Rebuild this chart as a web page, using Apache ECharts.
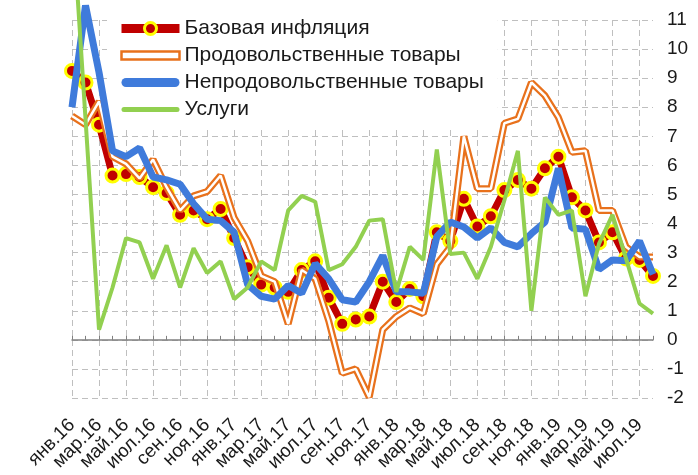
<!DOCTYPE html>
<html>
<head>
<meta charset="utf-8">
<script src="https://cdn.jsdelivr.net/npm/echarts@6/dist/echarts.min.js"></script>
<style>
  html, body { margin: 0; padding: 0; background: #fff; }
  #chart { width: 698px; height: 475px; }
</style>
</head>
<body>
<div id="chart"></div>
<script>
// подписи месяцев янв.16 ... авг.19
const monthNames = ['янв', 'фев', 'мар', 'апр', 'май', 'июн', 'июл', 'авг', 'сен', 'окт', 'ноя', 'дек'];
const years = ['16', '17', '18', '19'];
const months = [];
years.forEach(y => monthNames.forEach(m => months.push(m + '.' + y)));
months.length = 44;

const baseInfl = [9.25, 8.85, 7.4, 5.65, 5.7, 5.6, 5.25, 5.05, 4.3, 4.45,
  4.15, 4.5, 3.5, 2.5, 1.9, 1.8, 1.65, 2.4, 2.7, 1.45,
  0.55, 0.7, 0.8, 2.0, 1.3, 1.75, 1.5, 3.7, 3.4, 4.85,
  3.9, 4.25, 5.15, 5.5, 5.2, 5.9, 6.3, 4.9, 4.45, 3.35,
  3.7, 2.8, 2.75, 2.2];
const foodVals = [7.7, 7.4, 8.2, 6.3, 6.05, 5.55, 6.2, 5.25, 4.45, 4.95,
  5.1, 5.65, 4.2, 3.4, 2.2, 2.0, 0.55, 2.4, 2.1, 0.65,
  -1.15, -1.0, -1.97, 0.35, 0.8, 1.1, 0.9, 2.6, 3.2, 7.0,
  5.2, 5.2, 7.45, 7.6, 8.85, 8.4, 7.65, 6.45, 6.5, 4.45,
  4.45, 3.2, 2.85, 2.85];
const nonFoodVals = [8.0, 11.5, 9.2, 6.5, 6.3, 6.6, 5.6, 5.5, 5.35, 4.68,
  4.15, 4.1, 3.7, 1.9, 1.5, 1.4, 1.87, 1.6, 2.62, 2.1,
  1.38, 1.3, 2.0, 2.9, 1.65, 1.65, 1.6, 3.55, 4.05, 3.88,
  3.5, 3.85, 3.35, 3.2, 3.65, 4.05, 5.9, 3.85, 3.8, 2.42,
  2.75, 2.72, 3.4, 2.25];
const servicesVals = [14.8, 7.6, 0.35, 1.8, 3.5, 3.35, 2.1, 3.25, 1.8, 3.15,
  2.3, 2.7, 1.4, 1.8, 2.7, 2.4, 4.45, 4.95, 4.75, 2.4,
  2.6, 3.2, 4.1, 4.15, 1.65, 3.2, 2.75, 6.55, 2.95, 3.0,
  2.1, 3.2, 4.8, 6.5, 1.0, 4.9, 4.3, 4.45, 1.5, 3.3,
  4.3, 2.8, 1.25, 0.9];

const yMin = -2, yMax = 11, yStep = 1;

const RED = '#C00000', YELLOW = '#FFFF00', ORANGE = '#E8711C', BLUE = '#3F7BDB', GREEN = '#92D050';
const FONT = '"Liberation Sans", Arial, sans-serif';
const gridDash = { color: '#BFBFBF', type: [6, 4], width: 1 };

const chart = echarts.init(document.getElementById('chart'), null, { renderer: 'canvas' });

chart.setOption({
  animation: false,
  textStyle: { fontFamily: FONT },
  grid: { left: 72, right: 45, top: 20, bottom: 77 },
  legend: {
    orient: 'vertical',
    left: 107,
    top: 12,
    padding: [6, 14, 8, 10],
    backgroundColor: '#fff',
    itemWidth: 58,
    itemHeight: 15,
    itemGap: 6,
    textStyle: { fontSize: 21, color: '#1a1a1a', fontFamily: FONT, lineHeight: 20 },
    data: [
      { name: 'Базовая инфляция', lineStyle: { width: 9 }, itemStyle: { borderWidth: 3 } },
      { name: 'Продовольственные товары', icon: 'path://M0,0H58V8H0Z',
        itemStyle: { color: '#fff', borderColor: ORANGE, borderWidth: 2.5 } },
      { name: 'Непродовольственные товары', icon: 'path://M4.5,0H53.5A4.5,4.5,0,0,1,53.5,9H4.5A4.5,4.5,0,0,1,4.5,0Z',
        itemStyle: { color: BLUE } },
      { name: 'Услуги', icon: 'path://M2.5,0H55.5A2.5,2.5,0,0,1,55.5,5H2.5A2.5,2.5,0,0,1,2.5,0Z',
        itemStyle: { color: GREEN } }
    ]
  },
  xAxis: [{
    type: 'category',
    data: months,
    boundaryGap: false,
    axisLine: { show: false, onZero: false },
    axisTick: { show: false },
    axisLabel: {
      interval: 1, rotate: 45, margin: 24, fontSize: 19, color: '#1a1a1a', fontFamily: FONT
    },
    splitLine: { show: true, interval: 1, lineStyle: gridDash }
  }, {
    type: 'category',
    data: months,
    boundaryGap: false,
    position: 'bottom',
    axisLine: { show: true, onZero: true, lineStyle: { color: '#808080', width: 1.5 } },
    axisTick: { show: true, interval: 0, inside: true, length: 4, lineStyle: { color: '#808080' } },
    axisLabel: { show: false },
    splitLine: { show: false }
  }],
  yAxis: {
    type: 'value',
    position: 'right',
    min: yMin, max: yMax, interval: yStep,
    axisLine: { show: false },
    axisTick: { show: false },
    axisLabel: { margin: 14, fontSize: 19, color: '#1a1a1a', fontFamily: FONT },
    splitLine: { show: true, lineStyle: gridDash }
  },
  series: [
    {
      name: 'Базовая инфляция', type: 'line', data: baseInfl, z: 2,
      symbol: 'circle', symbolSize: 13, showAllSymbol: true,
      lineStyle: { color: RED, width: 7 },
      itemStyle: { color: RED, borderColor: YELLOW, borderWidth: 3 }
    },
    {
      name: 'Продовольственные товары', type: 'line', data: foodVals, z: 3,
      symbol: 'none', clip: false,
      lineStyle: { color: ORANGE, width: 7 },
      itemStyle: { color: ORANGE }
    },
    {
      name: 'food-inner', type: 'line', data: foodVals, z: 3,
      symbol: 'none', clip: false, silent: true,
      lineStyle: { color: '#fff', width: 2.5 },
      itemStyle: { color: '#fff' }
    },
    {
      name: 'Непродовольственные товары', type: 'line', data: nonFoodVals, z: 4,
      symbol: 'none', clip: false,
      lineStyle: { color: BLUE, width: 7 },
      itemStyle: { color: BLUE }
    },
    {
      name: 'Услуги', type: 'line', data: servicesVals, z: 5,
      symbol: 'none', clip: false,
      lineStyle: { color: GREEN, width: 4 },
      itemStyle: { color: GREEN }
    }
  ]
});
</script>
</body>
</html>
